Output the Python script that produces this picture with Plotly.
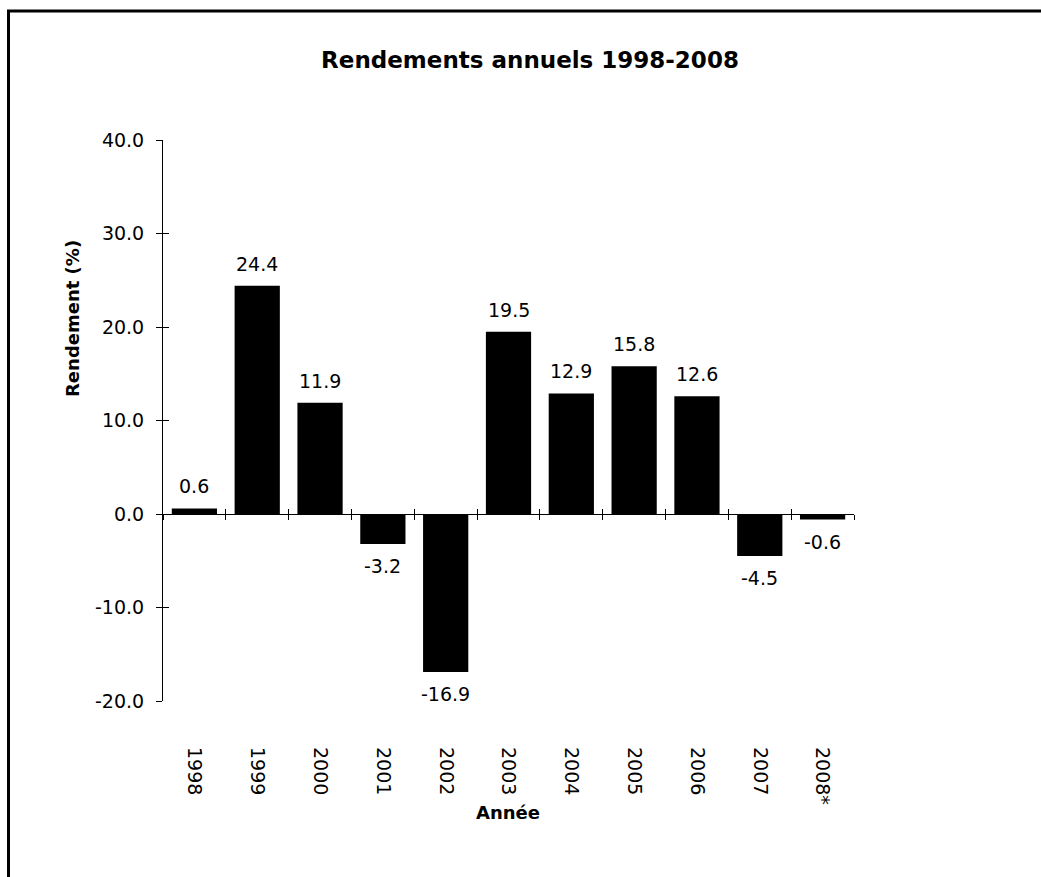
import plotly.graph_objects as go

years = ["1998", "1999", "2000", "2001", "2002", "2003", "2004", "2005", "2006", "2007", "2008*"]
returns = [0.6, 24.4, 11.9, -3.2, -16.9, 19.5, 12.9, 15.8, 12.6, -4.5, -0.6]
y_ticks = [-20, -10, 0, 10, 20, 30, 40]

W, H = 1041, 877
L, R, T, B = 163, 187, 140, 176
pw, ph = W - L - R, H - T - B

def px(x):
    return (x - L) / pw

def py(y):
    return (H - B - y) / ph

idx = list(range(len(years)))
font = "DejaVu Sans, Liberation Sans, Arial, sans-serif"
TS = 19

fig = go.Figure()
fig.add_trace(go.Bar(
    x=idx, y=returns,
    marker=dict(color="black", line=dict(width=0)),
    width=0.72,
    hoverinfo="x+y",
))

for i, v in zip(idx, returns):
    fig.add_annotation(x=i, y=v, xref="x", yref="y", text=f"{v:.1f}",
                       showarrow=False, yanchor="middle",
                       yshift=22 if v >= 0 else -22,
                       font=dict(size=TS, color="black", family=font))

bounds = [i - 0.5 for i in range(len(years) + 1)]
xr = [-0.5, len(years) - 0.5]

fig.update_layout(
    width=W, height=H,
    margin=dict(l=L, r=R, t=T, b=B),
    paper_bgcolor="white", plot_bgcolor="white",
    showlegend=False,
    font=dict(family=font, color="black"),
    title=dict(text="<b>Rendements annuels 1998-2008</b>", x=px(530), xref="paper",
               xanchor="center", y=1 - 60 / H, yanchor="middle",
               font=dict(size=23, color="black", family=font)),
    xaxis=dict(range=xr, tickmode="array", tickvals=idx, ticktext=years,
               tickangle=90, showline=False, showgrid=False, zeroline=False,
               ticks="", ticklabelstandoff=45,
               tickfont=dict(size=TS, color="black", family=font)),
    xaxis2=dict(range=xr, overlaying="x", anchor="free", position=1/3,
                tickmode="array", tickvals=bounds, ticktext=[""] * len(bounds),
                showline=True, linecolor="black", linewidth=1, ticks="outside",
                ticklen=5, tickcolor="black", showgrid=False, zeroline=False),
    xaxis3=dict(range=xr, overlaying="x", anchor="free", position=1/3,
                tickmode="array", tickvals=bounds, ticktext=[""] * len(bounds),
                showline=False, ticks="inside",
                ticklen=5, tickcolor="black", showgrid=False, zeroline=False),
    yaxis=dict(range=[-20, 40], tickmode="array", tickvals=y_ticks,
               ticktext=[f"{v:.1f}" for v in y_ticks],
               showline=True, linecolor="black", linewidth=1,
               ticks="outside", ticklen=6, tickcolor="black",
               ticklabelstandoff=8,
               showgrid=False, zeroline=False,
               tickfont=dict(size=TS, color="black", family=font)),
    yaxis2=dict(range=[-20, 40], overlaying="y", anchor="x", tickmode="array",
                tickvals=y_ticks, ticktext=[""] * len(y_ticks),
                ticks="inside", ticklen=6, tickcolor="black",
                showline=False, showgrid=False, zeroline=False),
)

# invisible traces to activate overlay axes
fig.add_trace(go.Scatter(x=[xr[0]], y=[0], xaxis="x2", yaxis="y", mode="markers",
                         marker=dict(opacity=0), hoverinfo="skip"))
fig.add_trace(go.Scatter(x=[xr[0]], y=[0], xaxis="x3", yaxis="y2", mode="markers",
                         marker=dict(opacity=0), hoverinfo="skip"))

fig.add_annotation(text="<b>Rendement (%)</b>", xref="paper", yref="paper",
                   x=px(72), y=py(318), xanchor="center", yanchor="middle",
                   textangle=-90, showarrow=False,
                   font=dict(size=18, color="black", family=font))
fig.add_annotation(text="<b>Année</b>", xref="paper", yref="paper",
                   x=px(508), y=py(812), xanchor="center", yanchor="middle",
                   showarrow=False,
                   font=dict(size=18, color="black", family=font))

fig.add_shape(type="line", xref="paper", yref="paper",
              x0=px(8.5), x1=px(8.5), y0=py(10), y1=py(H + 5),
              line=dict(color="black", width=3))
fig.add_shape(type="line", xref="paper", yref="paper",
              x0=px(7), x1=px(W + 5), y0=py(11), y1=py(11),
              line=dict(color="black", width=3))

fig.write_html("out.html", config={"displayModeBar": False},
               post_script="document.body.style.margin='0';document.body.style.overflow='hidden';")
